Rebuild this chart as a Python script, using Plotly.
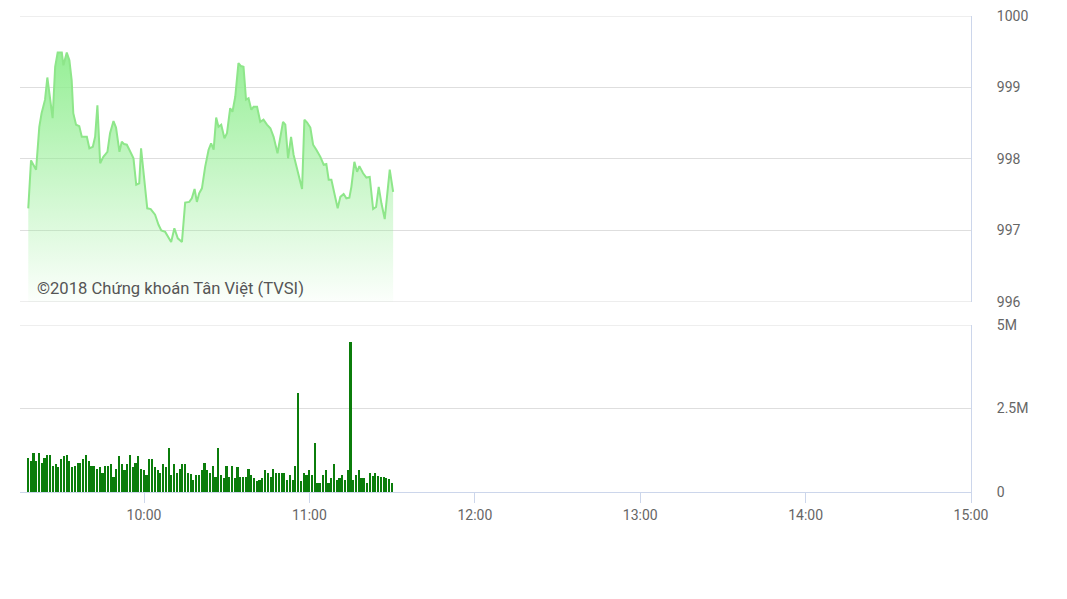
import pandas as pd
import plotly.graph_objects as go

DAY = "2018-01-01 "

# ---- price (index) series ----
price_times = ["09:18:00","09:19:00","09:20:50","09:22:00","09:22:50","09:24:05","09:24:55","09:25:55","09:26:50","09:27:45",
"09:28:40","09:30:10","09:30:45","09:31:58","09:32:55","09:33:45","09:34:20","09:35:20","09:36:30","09:37:25",
"09:39:15","09:40:10","09:41:25","09:42:15","09:43:05","09:44:05","09:45:15","09:46:43","09:47:40","09:48:55",
"09:49:50","09:51:05","09:51:55","09:52:45","09:53:45","09:54:40","09:56:10","09:57:10","09:58:15","09:58:55",
"10:00:00","10:01:10","10:02:25","10:04:00","10:05:15","10:06:15","10:07:40","10:08:40","10:09:50","10:11:00",
"10:12:15","10:13:45","10:14:55","10:16:25","10:17:20","10:18:20","10:19:10","10:20:00","10:21:00","10:22:10",
"10:23:25","10:24:20","10:25:15","10:26:10","10:27:00","10:28:00","10:29:10","10:30:05","10:31:15","10:32:05",
"10:33:05","10:34:15","10:35:10","10:36:05","10:37:00","10:37:55","10:38:55","10:39:45","10:41:00","10:42:10",
"10:43:20","10:44:35","10:45:50","10:47:00","10:48:25","10:50:25","10:51:15","10:52:15","10:53:20","10:54:15",
"10:55:30","10:57:20","10:58:10","10:59:10","11:00:20","11:01:20","11:02:30","11:03:58","11:05:10","11:06:08",
"11:06:59","11:07:58","11:09:02","11:10:15","11:11:13","11:12:25","11:13:24","11:14:29","11:15:13","11:16:18",
"11:17:17","11:18:07","11:19:28","11:20:40","11:21:52","11:23:06","11:24:11","11:25:08","11:26:07","11:27:19",
"11:29:08","11:30:22"]

price_values = [997.31,997.98,997.85,998.45,998.64,998.83,999.14,998.87,998.57,999.29,
999.49,999.49,999.31,999.49,999.38,999.10,998.64,998.48,998.46,998.31,
998.31,998.15,998.17,998.31,998.75,997.94,998.03,998.10,998.36,998.53,
998.44,998.10,998.24,998.21,998.20,998.13,998.01,997.64,997.66,998.15,
997.71,997.31,997.30,997.22,997.08,997.00,996.98,996.91,996.84,997.03,
996.89,996.84,997.39,997.40,997.45,997.58,997.40,997.52,997.59,997.89,
998.13,998.22,998.13,998.58,998.45,998.48,998.29,998.36,998.71,998.66,
998.87,999.34,999.30,999.29,998.83,998.85,998.69,998.73,998.73,998.52,
998.55,998.48,998.43,998.31,998.08,998.52,998.48,998.01,998.31,998.06,
997.87,997.58,998.55,998.51,998.44,998.20,998.13,998.03,997.92,997.93,
997.71,997.71,997.52,997.31,997.47,997.51,997.45,997.46,997.61,997.96,
997.82,997.90,997.80,997.74,997.75,997.30,997.33,997.61,997.38,997.16,
997.85,997.54]

# ---- volume per minute (millions of shares), starting 09:18 ----
volume_start = "09:18"
volume_millions = [1.01,0.92,1.16,0.92,1.18,0.86,1.01,1.10,1.10,0.77,
0.83,0.75,0.98,1.07,1.10,0.92,0.74,0.77,0.86,0.86,
0.98,1.10,0.92,0.77,0.77,0.68,0.74,0.56,0.77,0.77,
0.83,0.44,0.68,1.07,0.83,0.65,0.83,1.10,0.74,0.86,
1.07,0.68,0.65,0.50,1.00,1.00,0.75,0.65,0.56,0.83,
0.75,1.31,0.50,0.85,0.58,0.68,0.83,0.83,0.56,0.53,
0.35,0.50,0.50,0.65,0.86,0.65,0.56,0.77,0.44,1.31,
0.50,0.43,0.77,0.44,0.77,0.41,0.74,0.44,0.44,0.44,
0.68,0.50,0.41,0.32,0.35,0.41,0.65,0.56,0.45,0.68,
0.56,0.56,0.56,0.58,0.36,0.50,0.36,0.77,2.97,0.32,
0.58,0.50,0.65,0.50,1.48,0.26,0.26,0.50,0.65,0.26,
0.41,0.83,0.35,0.41,0.50,0.35,0.65,4.50,0.35,0.50,
0.65,0.41,0.41,0.28,0.58,0.47,0.58,0.47,0.44,0.44,
0.41,0.38,0.26]

price_ticks = [996, 997, 998, 999, 1000]
volume_ticks = [0, 2.5, 5]
volume_tick_labels = ["0", "2.5M", "5M"]
time_ticks = ["10:00", "11:00", "12:00", "13:00", "14:00", "15:00"]
session = ["09:15", "15:00"]
watermark = "©2018 Chứng khoán Tân Việt (TVSI)"

px_times = pd.to_datetime([DAY + t for t in price_times])
vol_times = pd.date_range(DAY + volume_start, periods=len(volume_millions), freq="1min")

FONT = "Roboto"
GRID = "#dedede"
AXIS = "#ccd6eb"
TXT = "#666666"

fig = go.Figure()

fig.add_trace(go.Scatter(
    x=px_times, y=price_values, mode="lines",
    line=dict(color="#8ee68a", width=2),
    fill="tozeroy",
    fillgradient=dict(type="vertical", start=996, stop=999.5,
                      colorscale=[[0, "rgba(144,238,144,0.03)"],
                                  [1, "rgba(144,238,144,0.95)"]]),
    xaxis="x", yaxis="y", hoverinfo="skip", showlegend=False))

fig.add_trace(go.Bar(
    x=vol_times, y=volume_millions, width=36000,
    marker=dict(color="#0b7d0b", line=dict(width=0)),
    xaxis="x", yaxis="y2", hoverinfo="skip", showlegend=False))

# grid lines that sit on the panel edges (plotly hides those)
edge_lines = [("y", 1000), ("y", 996), ("y2", 5)]
shapes = [dict(type="line", xref="paper", x0=0, x1=1, yref=ax, y0=v, y1=v,
               line=dict(color=GRID, width=1), layer="below")
          for ax, v in edge_lines]

# page body adds an 8px offset, so the figure is sized to fit the window
W, H = 1059, 591
fig.update_layout(
    width=W, height=H,
    margin=dict(l=12, r=96, t=8, b=107, autoexpand=False),
    paper_bgcolor="white", plot_bgcolor="white",
    font=dict(family=FONT, size=14, color=TXT),
    bargap=0,
    shapes=shapes,
    xaxis=dict(
        type="date", anchor="y2", automargin=False,
        range=[DAY + session[0], DAY + session[1]],
        tickvals=[DAY + t for t in time_ticks], ticktext=time_ticks,
        showgrid=False, zeroline=False,
        showline=True, linecolor=AXIS, linewidth=1,
        ticks="outside", ticklen=10, tickcolor=AXIS,
        ticklabeloverflow="allow",
        tickfont=dict(family=FONT, size=14, color=TXT),
    ),
    yaxis=dict(
        domain=[0.3992, 1.0], anchor="x", side="right", automargin=False,
        range=[996, 1000], tickvals=price_ticks,
        ticktext=[str(v) for v in price_ticks],
        showgrid=True, gridcolor=GRID, gridwidth=1, zeroline=False,
        showline=True, linecolor=AXIS, linewidth=1,
        ticks="", ticklabelstandoff=22, ticklabeloverflow="allow",
        tickfont=dict(family=FONT, size=14, color=TXT),
    ),
    yaxis2=dict(
        domain=[0.0, 0.3508], anchor="x", side="right", automargin=False,
        range=[0, 5], tickvals=volume_ticks, ticktext=volume_tick_labels,
        showgrid=True, gridcolor=GRID, gridwidth=1, zeroline=False,
        showline=True, linecolor=AXIS, linewidth=1,
        ticks="", ticklabelstandoff=22, ticklabeloverflow="allow",
        tickfont=dict(family=FONT, size=14, color=TXT),
    ),
    annotations=[dict(
        text=watermark, xref="paper", yref="paper",
        x=(35 - 20) / 951, y=(492 - 288) / 476,
        xanchor="left", yanchor="middle", showarrow=False,
        font=dict(family=FONT, size=16.6, color="#555555"),
    )],
)

fig.write_html("out.html")
